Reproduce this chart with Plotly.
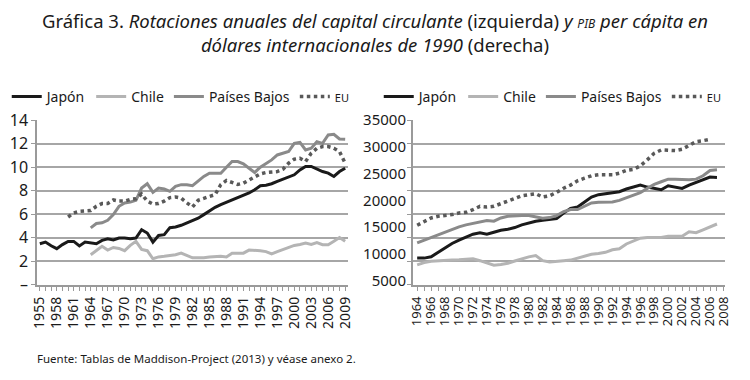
import numpy as np
import plotly.graph_objects as go

# ---------------- data: left panel (rotaciones anuales) ----------------
years_left = list(range(1955, 2010))
japon_rot = [3.47, 3.61, 3.3, 3.05, 3.4, 3.67, 3.67, 3.28, 3.61, 3.55,
             3.47, 3.76, 3.9, 3.8, 3.96, 3.96, 3.9, 3.96, 4.67, 4.38,
             3.61, 4.18, 4.24, 4.84, 4.9, 5.04, 5.24, 5.4, 5.65, 5.95,
             6.29, 6.57, 6.8, 7.0, 7.14, 7.36, 7.59, 7.79, 8.07, 8.41,
             8.46, 8.58, 8.78, 8.97, 9.14, 9.34, 9.76, 10.05, 10.05, 9.82,
             9.62, 9.48, 9.2, 9.62, 9.9]
chile_years_left = list(range(1964, 2010))
chile_rot = [2.53, 2.88, 3.25, 2.93, 3.15, 3.07, 2.88, 3.33, 3.68, 2.99,
             2.88, 2.19, 2.35, 2.4, 2.45, 2.53, 2.67, 2.45, 2.27, 2.27,
             2.27, 2.35, 2.4, 2.4, 2.35, 2.67, 2.67, 2.67, 2.93, 2.93,
             2.88, 2.8, 2.61, 2.8, 2.99, 3.15, 3.33, 3.41, 3.52, 3.41,
             3.57, 3.39, 3.39, 3.68, 4.0, 3.68]
pb_years_left = list(range(1964, 2010))
pb_rot = [4.82, 5.19, 5.25, 5.47, 5.95, 6.66, 6.94, 7.02, 7.17, 8.21,
          8.58, 7.84, 8.21, 8.13, 7.93, 8.35, 8.5, 8.5, 8.41, 8.78,
          9.2, 9.48, 9.48, 9.48, 9.99, 10.47, 10.47, 10.27, 9.9, 9.54,
          9.99, 10.27, 10.61, 11.03, 11.18, 11.32, 12.02, 12.11, 11.46, 11.6,
          12.16, 12.02, 12.73, 12.79, 12.39, 12.36]
eu_years_left = list(range(1960, 2010))
eu_rot = [5.75, 6.1, 6.23, 6.27, 6.3, 6.66, 6.89, 6.89, 7.2, 7.1,
          7.1, 7.25, 7.3, 7.7, 7.1, 6.85, 6.9, 7.1, 7.4, 7.45,
          7.35, 6.95, 6.6, 7.17, 7.36, 7.5, 7.65, 8.5, 8.86, 8.69,
          8.52, 8.63, 8.92, 9.2, 9.42, 9.54, 9.59, 9.62, 9.82, 10.33,
          10.67, 10.75, 10.47, 11.18, 11.6, 11.74, 11.74, 11.6, 11.32, 10.33]

# ---------------- data: right panel (PIB per cápita, dólares de 1990) ----------------
years_right = list(range(1964, 2008))
japon_pib = [5617, 5617, 5900, 6800, 7880, 8730, 9430, 10140, 10700, 11000,
             10700, 11130, 11560, 11770, 12120, 12690, 13110, 13460, 13680, 13820,
             14030, 15200, 16220, 16500, 17490, 18620, 19120, 19330, 19470, 19750,
             20320, 20740, 21160, 20740, 20460, 20170, 21020, 20740, 20460, 21160,
             21730, 22150, 22860, 22790]
chile_pib = [4180, 4660, 4930, 5070, 5200, 5200, 5270, 5340, 5480, 5070,
             4520, 4110, 4250, 4520, 5000, 5480, 5890, 6160, 5070, 4790,
             4860, 5070, 5200, 5620, 6030, 6440, 6580, 6850, 7400, 7600,
             8630, 9180, 9860, 10000, 10000, 10000, 10270, 10270, 10270, 11230,
             11030, 11640, 12330, 12880]
pb_pib = [8878, 9440, 10150, 10710, 11280, 11840, 12270, 12690, 12970, 13400,
          13610, 13470, 14170, 14530, 14670, 14670, 14670, 14380, 14100, 14240,
          14670, 15500, 15940, 15940, 16640, 17350, 17490, 17490, 17560, 17910,
          18410, 18900, 19540, 20460, 21300, 21870, 22430, 22430, 22360, 22290,
          22430, 23140, 24270, 24410]
eu_years_right = list(range(1964, 2007))
eu_pib = [12620, 13470, 14170, 14530, 14670, 14880, 15230, 15370, 15940, 16640,
          16500, 16640, 17210, 17700, 18340, 18900, 19120, 19330, 18620, 18900,
          19610, 20500, 21160, 22080, 22640, 23140, 23350, 23280, 23350, 23700,
          24270, 24480, 25260, 26530, 27940, 28650, 28650, 28500, 28790, 29700,
          30410, 30620, 30900]

left_ytick_vals = [0, 2, 4, 6, 8, 10, 12, 14]
left_ytick_text = ["–", "2", "4", "6", "8", "10", "12", "14"]
right_ytick_text = ["35000", "30000", "25000", "20000", "15000", "10000", "5000"]

names = ["Japón", "Chile", "Países Bajos", "<span style='font-size:11px'>EU</span>"]
colors = ["#1a1a1a", "#b4b4b4", "#8a8a8a", "#595959"]
widths = [3, 3, 3, 3.5]
dashes = ["solid", "solid", "solid", "dot"]

FONT = "Noto Sans"
TXT = "#1a1a1a"

fig = go.Figure()

left_series = [(years_left, japon_rot), (chile_years_left, chile_rot),
               (pb_years_left, pb_rot), (eu_years_left, eu_rot)]
right_series = [(years_right, japon_pib), (years_right, chile_pib),
                (years_right, pb_pib), (eu_years_right, eu_pib)]

for i, (xs, ys) in enumerate(left_series):
    fig.add_trace(go.Scatter(x=xs, y=ys, mode="lines", name=names[i],
                             line=dict(color=colors[i], width=widths[i], dash=dashes[i]),
                             xaxis="x", yaxis="y", legend="legend"))
for i, (xs, ys) in enumerate(right_series):
    fig.add_trace(go.Scatter(x=xs, y=ys, mode="lines", name=names[i],
                             line=dict(color=colors[i], width=widths[i], dash=dashes[i]),
                             xaxis="x2", yaxis="y2", legend="legend2"))

# dummy trace to host the relabelled right axis
fig.add_trace(go.Scatter(x=[None], y=[None], xaxis="x2", yaxis="y3",
                         showlegend=False, hoverinfo="skip"))

ydom = [0.2513, 0.684]
grid = "#a6a6a6"
axcol = "#9a9a9a"

fig.update_layout(
    width=750, height=380,
    margin=dict(l=0, r=0, t=0, b=0, autoexpand=False),
    paper_bgcolor="white", plot_bgcolor="white",
    font=dict(family=FONT, color=TXT, size=14),
    showlegend=True,
    xaxis=dict(domain=[37 / 750, 348 / 750], range=[1954.5, 2009.5],
               tickmode="linear", tick0=1955, dtick=3, tickangle=-90,
               ticks="outside", ticklen=5, tickcolor=axcol,
               minor=dict(dtick=1, ticks="outside", ticklen=5, tickcolor=axcol),
               showline=True, linecolor=axcol, linewidth=1.5,
               showgrid=False, zeroline=False, automargin=False,
               tickfont=dict(size=14, family=FONT, color=TXT)),
    yaxis=dict(domain=ydom, range=[0, 14], tickvals=left_ytick_vals,
               ticktext=left_ytick_text, ticks="outside", ticklen=4, tickcolor=axcol,
               showline=True, linecolor=axcol, linewidth=1.5,
               showgrid=True, gridcolor=grid, gridwidth=1.5, zeroline=False,
               automargin=False,
               tickfont=dict(size=16, family=FONT, color=TXT), anchor="x"),
    xaxis2=dict(domain=[413 / 750, 725 / 750], range=[1963.4, 2008.15],
                tickmode="linear", tick0=1964, dtick=2, tickangle=-90,
                ticks="outside", ticklen=5, tickcolor=axcol,
                minor=dict(dtick=1, ticks="outside", ticklen=5, tickcolor=axcol),
                showline=True, linecolor=axcol, linewidth=1.5,
                showgrid=False, zeroline=False, anchor="y2", automargin=False,
                tickfont=dict(size=13, family=FONT, color=TXT)),
    yaxis2=dict(domain=ydom, range=[0, 35000], dtick=5000, tick0=0,
                showticklabels=False, ticks="outside", ticklen=4, tickcolor=axcol,
                showline=True, linecolor=axcol, linewidth=1.5,
                showgrid=True, gridcolor=grid, gridwidth=1.5, zeroline=False,
                anchor="x2", automargin=False),
    yaxis3=dict(domain=ydom, range=[0, 35000], overlaying="y2", anchor="x2",
                side="left", showgrid=False, zeroline=False, showline=False,
                tickvals=list(np.linspace(35000, 800, len(right_ytick_text))),
                ticktext=right_ytick_text, ticks="", ticklabelstandoff=6,
                automargin=False,
                tickfont=dict(size=15, family=FONT, color=TXT)),
    legend=dict(orientation="h", x=0.009, xanchor="left", y=(380 - 97) / 380,
                yanchor="middle",
                font=dict(size=14, family=FONT, color=TXT), bgcolor="rgba(0,0,0,0)",
                tracegroupgap=0, itemwidth=30),
    legend2=dict(orientation="h", x=0.505, xanchor="left", y=(380 - 97) / 380,
                 yanchor="middle",
                 font=dict(size=14, family=FONT, color=TXT), bgcolor="rgba(0,0,0,0)",
                 tracegroupgap=0, itemwidth=30),
    annotations=[
        dict(text=("Gráfica 3. <i>Rotaciones anuales del capital circulante</i> (izquierda) "
                   "<i>y <span style='font-size:12px'>PIB</span> per cápita en</i><br>"
                   "<i>dólares internacionales de 1990</i> (derecha)"),
             x=0.5, y=(380 - 32) / 380, xref="paper", yref="paper",
             xanchor="center", yanchor="middle", showarrow=False,
             font=dict(size=18.5, family=FONT, color=TXT)),
        dict(text="Fuente: Tablas de Maddison-Project (2013) y véase anexo 2.",
             x=35 / 750, y=(380 - 358) / 380, xref="paper", yref="paper",
             xanchor="left", yanchor="middle", showarrow=False,
             font=dict(size=11.5, family=FONT, color=TXT))],
)

fig.write_html("out.html", config={"displayModeBar": False},
               post_script="document.body.style.margin='0';document.body.style.padding='0';")
